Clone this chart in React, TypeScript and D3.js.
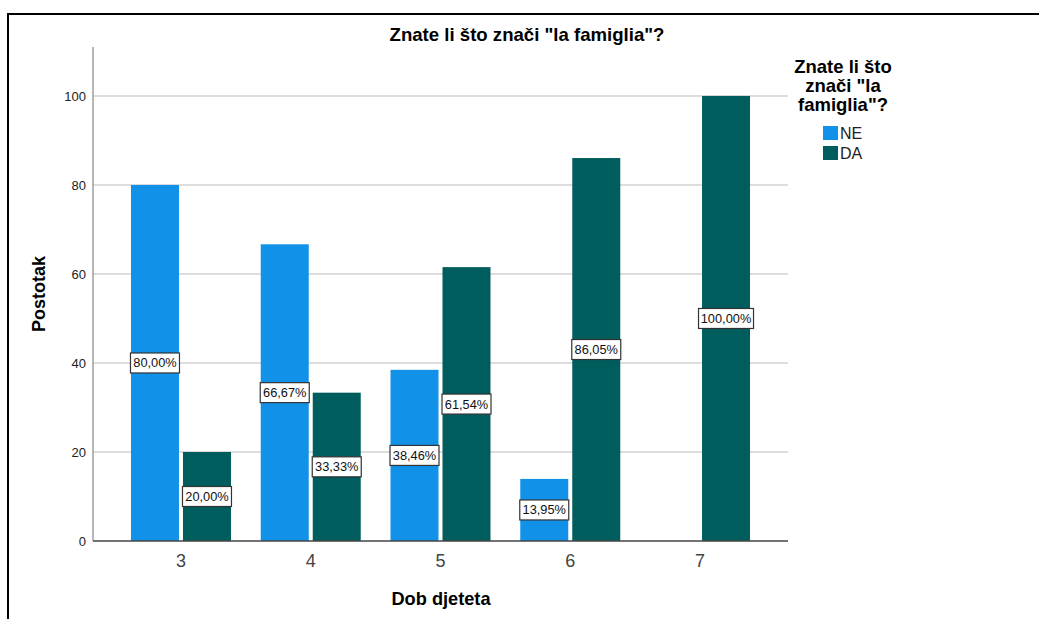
import * as d3 from "d3";

const ages = ["3", "4", "5", "6", "7"];
const answers = ["NE", "DA"];
const neValues = [80.0, 66.67, 38.46, 13.95, 0];
const daValues = [20.0, 33.33, 61.54, 86.05, 100.0];
const yTicks = [0, 20, 40, 60, 80, 100];
const colors = ["#1192e8", "#005d5d"];

const width = 1039;
const height = 619;
const marginLeft = 93;
const marginRight = 251;
const marginTop = 47;
const marginBottom = 78;
const font = "'Liberation Sans', Arial, sans-serif";

const App = () => {
  const x = d3
    .scalePoint<string>()
    .domain(ages)
    .range([marginLeft, width - marginRight])
    .padding(0.678);
  const y = d3.scaleLinear().domain([0, 111]).range([height - marginBottom, marginTop]);
  const barW = 48;
  const offset = d3.scaleOrdinal<string, number>().domain(answers).range([-26, 26]);
  const series = [neValues, daValues];

  return (
    <svg width={width} height={height} style={{ display: "block", position: "absolute", left: 0, top: 0, fontFamily: font }}>
      <rect x={0} y={0} width={width} height={height} fill="#fff" />
      <path d={`M8,${height}V14H${width}`} fill="none" stroke="#000" strokeWidth={2} />
      <text x={527} y={41} textAnchor="middle" fontSize={18.6} fontWeight="bold">
        Znate li što znači "la famiglia"?
      </text>
      {/* grid */}
      {yTicks.filter((t) => t > 0).map((t) => (
        <line key={t} x1={marginLeft} x2={width - marginRight} y1={y(t)} y2={y(t)} stroke="#d2d2d2" strokeWidth={1.5} />
      ))}
      {yTicks.map((t) => (
        <text key={t} x={86} y={y(t)} dy="0.35em" textAnchor="end" fontSize={13} fill="#222">
          {t}
        </text>
      ))}
      <line x1={marginLeft} x2={marginLeft} y1={marginTop} y2={y(0)} stroke="#888" strokeWidth={1.2} />
      {/* bars */}
      {answers.map((a, si) =>
        ages.map((age, i) => {
          const v = series[si][i];
          if (!v) return null;
          const cx = (x(age) ?? 0) + offset(a);
          return (
            <rect key={a + age} x={cx - barW / 2} y={y(v)} width={barW} height={y(0) - y(v)} fill={colors[si]} />
          );
        })
      )}
      {/* labels */}
      {answers.map((a, si) =>
        ages.map((age, i) => {
          const v = series[si][i];
          if (!v) return null;
          const cx = (x(age) ?? 0) + offset(a);
          const cy = y(v / 2);
          const txt = d3.format(".2f")(v).replace(".", ",") + "%";
          const w = txt.length > 6 ? 55 : 49;
          return (
            <g key={"l" + a + age}>
              <rect x={cx - w / 2} y={cy - 10} width={w} height={20} fill="#fff" stroke="#333" strokeWidth={1.2} />
              <text x={cx} y={cy} dy="0.35em" textAnchor="middle" fontSize={12.8} fill="#111">
                {txt}
              </text>
            </g>
          );
        })
      )}
      <line x1={marginLeft} x2={width - marginRight} y1={y(0)} y2={y(0)} stroke="#444" strokeWidth={1.5} />
      {ages.map((age) => (
        <text key={age} x={x(age)} y={567} textAnchor="middle" fontSize={18} fill="#444">
          {age}
        </text>
      ))}
      <text x={441} y={605} textAnchor="middle" fontSize={18.2} fontWeight="bold">
        Dob djeteta
      </text>
      <text transform={`translate(45,${(marginTop + y(0)) / 2}) rotate(-90)`} textAnchor="middle" fontSize={18} fontWeight="bold">
        Postotak
      </text>
      {/* legend */}
      {["Znate li što", 'znači "la', 'famiglia"?'].map((l, i) => (
        <text key={l} x={843} y={73 + i * 19} textAnchor="middle" fontSize={18.5} fontWeight="bold">
          {l}
        </text>
      ))}
      {answers.map((a, i) => (
        <g key={a} transform={`translate(823,${126 + i * 20})`}>
          <rect width={15} height={14} fill={colors[i]} />
          <text x={17} y={7} dy="0.35em" fontSize={16} fill="#222">
            {a}
          </text>
        </g>
      ))}
    </svg>
  );
};

export default App;
